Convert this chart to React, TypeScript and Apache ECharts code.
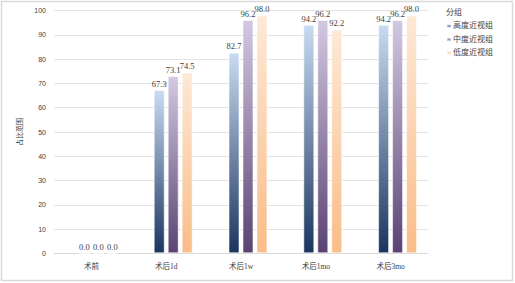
import React, { useEffect, useRef } from "react";
import * as echarts from "echarts";

const categories = ["术前", "术后1d", "术后1w", "术后1mo", "术后3mo"];
const seriesNames = ["高度近视组", "中度近视组", "低度近视组"];
const highValues = [0.0, 67.3, 82.7, 94.2, 94.2];
const midValues = [0.0, 73.1, 96.2, 96.2, 96.2];
const lowValues = [0.0, 74.5, 98.0, 92.2, 98.0];
const hiddenValues = [null, null, null, null, null];
const yTicks = { min: 0, max: 100, interval: 10 };

const grad = (top: string, bottom: string) =>
  new echarts.graphic.LinearGradient(0, 0, 0, 1, [
    { offset: 0, color: top },
    { offset: 1, color: bottom },
  ]);

const serif = "'Liberation Serif', 'Noto Sans CJK SC', serif";

export default function App() {
  const ref = useRef<HTMLDivElement>(null);
  useEffect(() => {
    if (!ref.current) return;
    const chart = echarts.init(ref.current, undefined, { renderer: "svg" });
    const colors = [
      ["#c9dbf2", "#1b355e"],
      ["#d3c8e2", "#5a4373"],
      ["#fee8d6", "#f9bd88"],
    ];
    const values = [highValues, midValues, lowValues];
    const legendColors = ["#3d6aa6", "#7f68a0", "#fbcaa0"];
    const barSeries: any[] = [
      {
        name: "hidden",
        type: "bar",
        data: hiddenValues,
        barWidth: 11,
        barGap: "27%",
        silent: true,
      },
    ];
    seriesNames.forEach((n, i) => {
      barSeries.push({
        name: n,
        type: "bar",
        data: values[i],
        barWidth: 11,
        barGap: "27%",
        color: legendColors[i],
        itemStyle: {
          color: grad(colors[i][0], colors[i][1]),
          borderColor: "rgba(255,255,255,0.55)",
          borderWidth: 1,
        },
        label: {
          show: true,
          position: "top",
          distance: 2,
          formatter: (p: any) => (p.value == null ? "" : "{v|" + Number(p.value).toFixed(1) + "}"),
          rich: { v: { fontFamily: serif, fontSize: 8.5, color: "#404040" } },
          color: "#404040",
          textBorderWidth: 0,
        },
      });
    });
    chart.setOption({
      animation: false,
      backgroundColor: "#ffffff",
      grid: { left: 54, right: 87, top: 10.7, bottom: 29.7, containLabel: false },
      graphic: [
        {
          type: "rect",
          shape: { x: 1.5, y: 1.5, width: 511, height: 279 },
          style: { fill: "none", stroke: "#d9d9d9", lineWidth: 1.5 },
          silent: true,
        },
        {
          type: "text",
          left: 446,
          top: 8,
          style: { text: "分组", font: `8px ${serif}`, fill: "#404040" },
        },
      ],
      legend: {
        orient: "vertical",
        left: 441,
        top: 14,
        itemWidth: 4,
        itemHeight: 3,
        itemGap: 0,
        icon: "rect",
        data: seriesNames,
        textStyle: {
          fontFamily: serif,
          fontSize: 8,
          lineHeight: 13.5,
          color: "#404040",
          padding: [0, 0, 0, -3],
        },
      },
      xAxis: {
        type: "category",
        data: categories,
        axisLine: { lineStyle: { color: "#d9d9d9", width: 1 } },
        axisTick: { show: false },
        axisLabel: { fontFamily: serif, fontSize: 7.5, color: "#404040", margin: 9 },
      },
      yAxis: {
        type: "value",
        min: yTicks.min,
        max: yTicks.max,
        interval: yTicks.interval,
        name: "占比范围",
        nameLocation: "middle",
        nameGap: 19,
        nameRotate: 90,
        nameTextStyle: { fontFamily: serif, fontSize: 7, color: "#404040" },
        axisLine: { show: false },
        axisTick: { show: false },
        axisLabel: { fontFamily: "'Liberation Sans', sans-serif", fontSize: 7, color: "#404040", margin: 8 },
        splitLine: { lineStyle: { color: "#e3e3e3", width: 1 } },
      },
      series: barSeries,
    });
    return () => chart.dispose();
  }, []);
  return (
    <div
      ref={ref}
      style={{ position: "fixed", left: 0, top: 0, width: 515, height: 283 }}
    />
  );
}
